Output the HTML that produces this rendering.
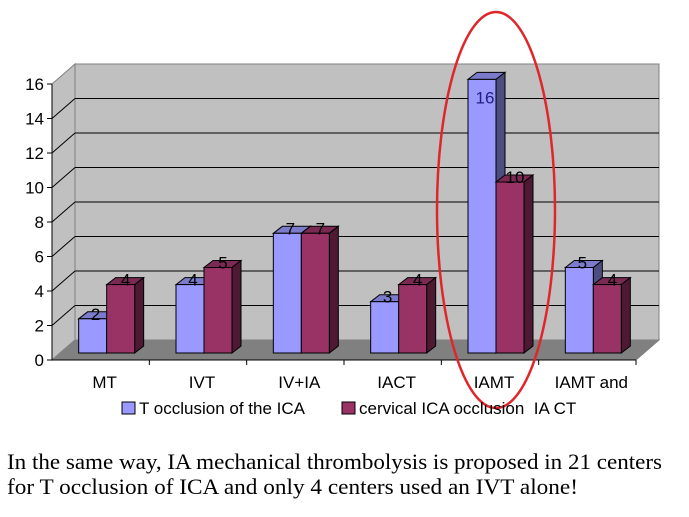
<!DOCTYPE html>
<html><head><meta charset="utf-8"><style>
html,body{margin:0;padding:0;background:#fff;width:689px;height:517px;overflow:hidden}
svg{display:block;font-family:"Liberation Sans",Arial,sans-serif}
</style></head><body>
<svg id="chart" width="689" height="517" viewBox="0 0 689 517" xmlns="http://www.w3.org/2000/svg">
<g id="walls"></g>
<g id="grid"></g>
<g id="bars"></g>
<g id="axes"></g>
<g id="labels"></g>
<ellipse cx="496" cy="210" rx="59" ry="198" fill="none" stroke="#e0262a" stroke-width="2.5"/>
<g>
 <rect x="122" y="402" width="13" height="12" fill="#9999ff" stroke="#000" stroke-width="1"/>
 <text x="139" y="414" font-size="17">T occlusion of the ICA</text>
 <rect x="342" y="402" width="13" height="12" fill="#993366" stroke="#000" stroke-width="1"/>
 <text x="359" y="414" font-size="17" xml:space="preserve">cervical ICA occlusion  IA CT</text>
</g>
<g font-family="'Liberation Serif','Times New Roman',serif" font-size="22">
 <text x="7" y="469" textLength="655" lengthAdjust="spacingAndGlyphs">In the same way, IA mechanical thrombolysis is proposed in 21 centers</text>
 <text x="7" y="494" textLength="571" lengthAdjust="spacingAndGlyphs">for T occlusion of ICA and only 4 centers used an IVT alone!</text>
</g>
</svg>
<script>
const categories = ["MT","IVT","IV+IA","IACT","IAMT","IAMT and"];
const tOcclusion = [2,4,7,3,16,5];
const cervical = [4,5,7,4,10,4];
const yTicks = [0,2,4,6,8,10,12,14,16];

const NS="http://www.w3.org/2000/svg";
const X0=52, X1=636, FY=360, DX=23, DY=-20, YMAX=16;
const plotH=276; // front 0->16
const yFront=v=>FY - v/YMAX*plotH;
const yBack=v=>FY+DY - v/YMAX*plotH;
const catW=(X1-X0)/categories.length;
const xCat=i=>X0+catW*i+catW/2+6;
const barBase=353, barScale=17.1, bw=28, bdx=9, bdy=-7;
const yBar=v=>barBase - v*barScale;
function el(tag,attrs,parent,name){const e=document.createElementNS(NS,tag);for(const k in attrs)e.setAttribute(k,attrs[k]);


parent.appendChild(e);return e;}
const walls=document.getElementById('walls'), grid=document.getElementById('grid'),
bars=document.getElementById('bars'), axes=document.getElementById('axes'), labels=document.getElementById('labels');
// back wall
el('polygon',{points:`${X0+DX},${yBack(YMAX)} ${X1+DX},${yBack(YMAX)} ${X1+DX},${yBack(0)} ${X0+DX},${yBack(0)}`,fill:'#c0c0c0',stroke:'#808080','stroke-width':1},walls,'back-wall');
// side wall
el('polygon',{points:`${X0},${yFront(YMAX)} ${X0+DX},${yBack(YMAX)} ${X0+DX},${yBack(0)} ${X0},${yFront(0)}`,fill:'#c0c0c0',stroke:'#808080','stroke-width':1},walls,'side-wall');
// floor
el('polygon',{points:`${X0},${FY} ${X0+DX},${FY+DY} ${X1+DX},${FY+DY} ${X1},${FY}`,fill:'#808080',stroke:'#808080','stroke-width':1},walls,'floor');
yTicks.forEach(v=>{
 if(v>0&&v<YMAX){
  el('line',{x1:X0+DX,y1:yBack(v),x2:X1+DX,y2:yBack(v),stroke:'#000','stroke-width':1},grid,'gridline-'+v);
  el('line',{x1:X0,y1:yFront(v),x2:X0+DX,y2:yBack(v),stroke:'#000','stroke-width':1},grid,'side-gridline-'+v);
 }
 el('line',{x1:X0-5,y1:yFront(v),x2:X0,y2:yFront(v),stroke:'#000'},axes,'y-tick-'+v);
 const t=el('text',{x:X0-8,y:yFront(v)+6,'text-anchor':'end','font-size':17},axes,'y-tick-label-'+v);
 t.textContent=v;
});
el('line',{x1:X0,y1:yFront(0),x2:X0,y2:yFront(YMAX),stroke:'#000'},axes,'y-axis');
el('line',{x1:X0,y1:FY,x2:X1,y2:FY,stroke:'#000'},axes,'x-axis');
function bar(x,v,front,side,top,name){
 const y=yBar(v);
 el('polygon',{points:`${x},${y} ${x+bdx},${y+bdy} ${x+bw+bdx},${y+bdy} ${x+bw},${y}`,fill:top,stroke:'#000','stroke-width':1},bars,name+'-top');
 el('polygon',{points:`${x+bw},${y} ${x+bw+bdx},${y+bdy} ${x+bw+bdx},${barBase+bdy} ${x+bw},${barBase}`,fill:side,stroke:'#000','stroke-width':1},bars,name+'-side');
 el('rect',{x:x,y:y,width:bw,height:barBase-y,fill:front,stroke:'#000','stroke-width':1},bars,name);
}
categories.forEach((c,i)=>{
 const cx=xCat(i);
 el('line',{x1:X0+catW*(i+1),y1:FY,x2:X0+catW*(i+1),y2:FY+5,stroke:'#000'},axes,'x-tick-'+i);
 const t=el('text',{x:X0+catW*i+catW/2+4,y:388,'text-anchor':'middle','font-size':17},axes,'x-label-'+i);
 t.textContent=c;
 bar(cx-bw,tOcclusion[i],'#9999ff','#4d4d80','#7b7bcc','bar-t-occlusion-'+i);
 bar(cx,cervical[i],'#993366','#4d1933','#7a2952','bar-cervical-'+i);
});
categories.forEach((c,i)=>{
 const cx=xCat(i);
 [[tOcclusion[i],cx-bw/2+3,'t-occlusion'],[cervical[i],cx+bw/2+5,'cervical']].forEach(([v,x,s])=>{
  let y=yBar(v)+1;
  if(y<100) y=yBar(v)+24;
  const t=el('text',{x:x,y:y,'text-anchor':'middle','font-size':17,fill:s==='t-occlusion'&&v===16?'#202080':'#000'},labels,'value-label-'+s+'-'+i);
  t.textContent=v;
 });
});
</script>
</body></html>
